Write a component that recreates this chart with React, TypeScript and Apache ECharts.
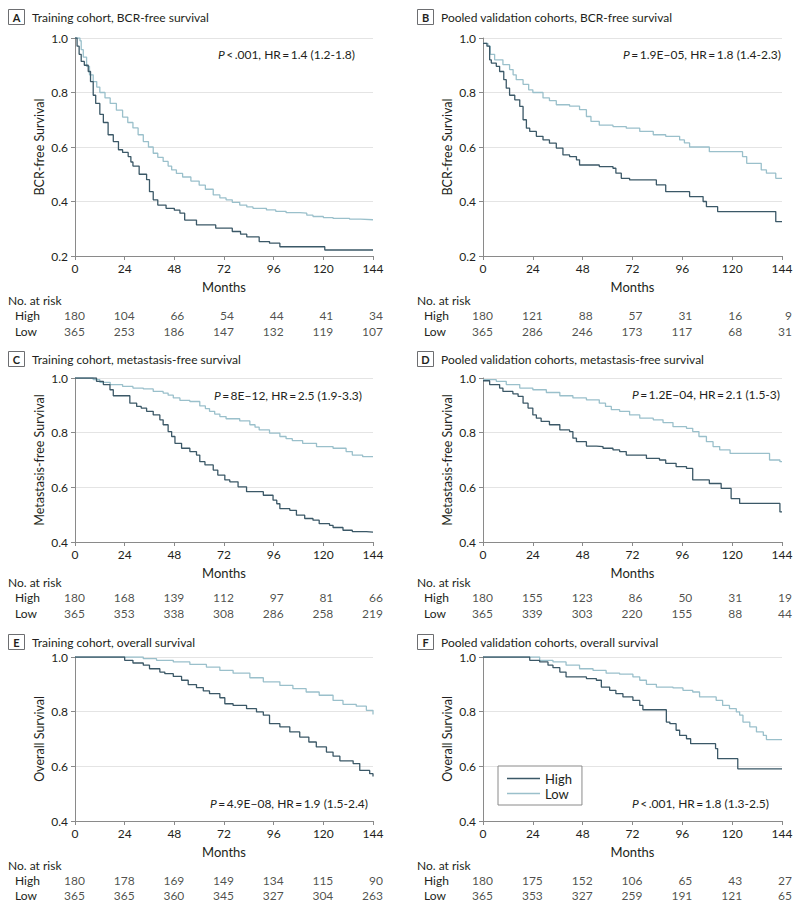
import React, { useEffect, useRef } from "react";
import * as echarts from "echarts";

// ---------- data ----------
const MONTHS = [0, 24, 48, 72, 96, 120, 144];
const GROUPS = ["High", "Low"];

const A_HIGH: [number, number][] = [[0,1],[1,0.97],[2,0.94],[3,0.914],[4.5,0.9],[6.4,0.877],[7.5,0.84],[8.8,0.79],[10,0.76],[12,0.72],[13.7,0.69],[16,0.645],[18.5,0.62],[21,0.59],[23,0.58],[25.7,0.565],[27,0.545],[28,0.53],[31,0.5],[34.6,0.48],[36,0.436],[37.8,0.406],[40,0.387],[44,0.375],[48,0.368],[50.7,0.357],[53,0.332],[58.7,0.314],[68,0.302],[76,0.29],[80,0.28],[83,0.27],[89,0.253],[94,0.247],[99,0.234],[120.7,0.222],[144,0.222]];
const A_LOW: [number, number][] = [[0,1],[2.4,0.99],[3,0.957],[4,0.93],[5.6,0.896],[7,0.865],[8.8,0.84],[10.5,0.82],[12,0.8],[14.5,0.78],[17,0.76],[20,0.735],[23,0.71],[25.5,0.69],[28,0.67],[30.5,0.645],[33,0.62],[35.5,0.6],[37.8,0.577],[40,0.562],[42.6,0.547],[45,0.53],[46.7,0.516],[49,0.503],[52,0.49],[56,0.475],[60,0.46],[63,0.445],[66.8,0.424],[70,0.413],[73,0.406],[76,0.397],[79.6,0.387],[83,0.38],[86,0.375],[92.5,0.369],[97,0.364],[102,0.359],[108.6,0.357],[112,0.35],[115,0.345],[120,0.341],[124.7,0.338],[132.7,0.335],[138,0.333],[144,0.332]];
const B_HIGH: [number, number][] = [[0,0.98],[1.9,0.97],[3.2,0.92],[4,0.908],[6.4,0.896],[8,0.877],[10,0.847],[11.2,0.816],[12.8,0.79],[15.3,0.773],[17.7,0.749],[19.3,0.7],[20.9,0.669],[22.5,0.657],[25.7,0.639],[28.9,0.626],[32,0.614],[35.3,0.596],[38.5,0.571],[41.7,0.565],[45,0.553],[46.5,0.534],[56,0.528],[62.6,0.522],[64,0.504],[66.6,0.485],[70.6,0.479],[83.5,0.461],[88,0.436],[99.5,0.418],[106,0.4],[107.6,0.381],[113,0.363],[141,0.326],[144,0.326]];
const B_LOW: [number, number][] = [[0,0.98],[2.4,0.97],[3.5,0.94],[5.6,0.92],[9.6,0.902],[12.8,0.884],[14.5,0.865],[16,0.847],[19.3,0.83],[22,0.81],[24,0.8],[28.9,0.78],[32,0.77],[35.3,0.755],[41.7,0.75],[46.5,0.737],[49.8,0.712],[52,0.694],[56,0.68],[62.6,0.675],[69,0.669],[75.5,0.657],[82,0.645],[88,0.639],[94.7,0.626],[97,0.615],[99.5,0.6],[109,0.583],[125,0.565],[127,0.54],[134,0.516],[136.5,0.504],[141,0.485],[144,0.485]];
const C_HIGH: [number, number][] = [[0,1],[7.2,1],[10.4,0.988],[13.7,0.976],[16.9,0.957],[18.5,0.935],[26.5,0.908],[29.8,0.896],[32,0.89],[34.6,0.878],[37.8,0.865],[41,0.847],[42.6,0.829],[45,0.804],[46.7,0.786],[48.3,0.761],[51.5,0.743],[55.5,0.731],[58.7,0.718],[60.3,0.694],[62.8,0.682],[66.8,0.663],[69,0.645],[72.4,0.627],[74.8,0.62],[78.8,0.602],[82.9,0.584],[91,0.571],[95.7,0.553],[97.5,0.54],[99,0.522],[103.8,0.516],[107,0.498],[111,0.486],[115,0.48],[118,0.467],[123,0.461],[124.7,0.453],[129.5,0.443],[134,0.438],[140.8,0.436],[144,0.436]];
const C_LOW: [number, number][] = [[0,1],[6.4,1],[8.8,0.994],[12,0.984],[17,0.976],[23,0.969],[28,0.963],[33,0.96],[37.8,0.951],[42.6,0.945],[45,0.937],[47.5,0.927],[50.7,0.918],[55.5,0.914],[60.3,0.898],[63,0.888],[65,0.878],[67.5,0.868],[70,0.859],[73,0.851],[79.6,0.843],[84.5,0.829],[87,0.82],[89,0.81],[94,0.798],[99,0.786],[102,0.778],[105,0.771],[110,0.761],[116.7,0.749],[124.7,0.743],[131,0.731],[134,0.718],[139,0.712],[144,0.71]];
const D_HIGH: [number, number][] = [[0,0.99],[3.2,0.976],[8,0.963],[9.6,0.951],[14.4,0.942],[16.9,0.933],[19.3,0.908],[21.7,0.89],[24,0.865],[25.7,0.853],[28,0.841],[32,0.829],[37,0.81],[41.7,0.804],[43.3,0.78],[45,0.767],[49.8,0.751],[54.6,0.749],[57.8,0.743],[62.6,0.737],[65.8,0.731],[69,0.718],[78.7,0.706],[85,0.7],[88,0.688],[93,0.676],[98,0.669],[101,0.627],[109,0.614],[114.7,0.596],[119.5,0.559],[123.6,0.541],[143,0.51],[144,0.51]];
const D_LOW: [number, number][] = [[0,0.994],[6.4,0.988],[11.2,0.976],[17.7,0.963],[24,0.957],[30.5,0.947],[37,0.935],[43.3,0.927],[49.8,0.92],[56,0.908],[59,0.896],[61.8,0.884],[65.8,0.878],[70.6,0.865],[75.5,0.853],[82,0.847],[86.7,0.837],[91.5,0.822],[98,0.816],[101,0.804],[104,0.786],[107.6,0.767],[110.8,0.749],[114,0.737],[119,0.724],[138,0.7],[143,0.694],[144,0.694]];
const E_HIGH: [number, number][] = [[0,1],[21.7,1],[24,0.988],[28,0.978],[33,0.97],[36,0.957],[41,0.945],[43.4,0.939],[47.5,0.929],[51.5,0.915],[54.7,0.899],[58.7,0.888],[62,0.876],[65,0.866],[70,0.851],[72.4,0.829],[76.4,0.823],[82.9,0.811],[87.7,0.799],[91,0.787],[94,0.756],[99,0.744],[103.8,0.726],[108.6,0.707],[113,0.689],[116.6,0.671],[121.5,0.652],[124.7,0.637],[128,0.62],[134.4,0.61],[137.6,0.585],[142.4,0.573],[144,0.563]];
const E_LOW: [number, number][] = [[0,1],[28,1],[33,0.994],[39.4,0.988],[47.5,0.982],[55.5,0.973],[63.5,0.963],[70,0.951],[76.4,0.941],[84.5,0.924],[91,0.909],[99,0.896],[105.3,0.884],[111.7,0.872],[118,0.86],[124.7,0.841],[129.5,0.827],[135.9,0.82],[140.8,0.805],[144,0.79]];
const F_HIGH: [number, number][] = [[0,1],[17.7,1],[22.5,0.988],[27.3,0.982],[31.3,0.97],[33.7,0.961],[37,0.945],[40,0.927],[49.8,0.921],[54.6,0.915],[57,0.89],[61,0.878],[64,0.866],[67.4,0.854],[72.2,0.841],[75.5,0.823],[77,0.807],[88.3,0.762],[90,0.756],[93,0.732],[94.7,0.713],[98,0.701],[100,0.683],[112,0.665],[113,0.628],[122.7,0.591],[144,0.591]];
const F_LOW: [number, number][] = [[0,1],[22.5,1],[27.3,0.988],[33.7,0.982],[40,0.97],[46.5,0.957],[53,0.951],[59.3,0.941],[65.8,0.937],[72.2,0.927],[75.5,0.915],[78.7,0.9],[83.5,0.89],[91.5,0.887],[96.3,0.878],[101,0.872],[104.3,0.854],[112.3,0.841],[115.4,0.823],[118.7,0.811],[122,0.799],[123.6,0.787],[125.2,0.762],[128.5,0.744],[131.7,0.726],[135,0.713],[136.5,0.698],[144,0.698]];

const RISK_A_HIGH = [180, 104, 66, 54, 44, 41, 34];
const RISK_A_LOW = [365, 253, 186, 147, 132, 119, 107];
const RISK_B_HIGH = [180, 121, 88, 57, 31, 16, 9];
const RISK_B_LOW = [365, 286, 246, 173, 117, 68, 31];
const RISK_C_HIGH = [180, 168, 139, 112, 97, 81, 66];
const RISK_C_LOW = [365, 353, 338, 308, 286, 258, 219];
const RISK_D_HIGH = [180, 155, 123, 86, 50, 31, 19];
const RISK_D_LOW = [365, 339, 303, 220, 155, 88, 44];
const RISK_E_HIGH = [180, 178, 169, 149, 134, 115, 90];
const RISK_E_LOW = [365, 365, 360, 345, 327, 304, 263];
const RISK_F_HIGH = [180, 175, 152, 106, 65, 43, 27];
const RISK_F_LOW = [365, 353, 327, 259, 191, 121, 65];

const LETTERS = ["A", "B", "C", "D", "E", "F"];
const TITLES = [
  "Training cohort, BCR-free survival",
  "Pooled validation cohorts, BCR-free survival",
  "Training cohort, metastasis-free survival",
  "Pooled validation cohorts, metastasis-free survival",
  "Training cohort, overall survival",
  "Pooled validation cohorts, overall survival",
];
const Y_NAMES = ["BCR-free Survival", "BCR-free Survival", "Metastasis-free Survival", "Metastasis-free Survival", "Overall Survival", "Overall Survival"];
const Y_MINS = [0.2, 0.2, 0.4, 0.4, 0.4, 0.4];
const P_TEXTS = ["<\u2009.001", "=\u20091.9E\u221205", "=\u20098E\u221212", "=\u20091.2E\u221204", "=\u20094.9E\u221208", "<\u2009.001"];
const HR_TEXTS = ["1.4 (1.2-1.8)", "1.8 (1.4-2.3)", "2.5 (1.9-3.3)", "2.1 (1.5-3)", "1.9 (1.5-2.4)", "1.8 (1.3-2.5)"];

const CURVES_HIGH = [A_HIGH, B_HIGH, C_HIGH, D_HIGH, E_HIGH, F_HIGH];
const CURVES_LOW = [A_LOW, B_LOW, C_LOW, D_LOW, E_LOW, F_LOW];
const RISK_HIGH = [RISK_A_HIGH, RISK_B_HIGH, RISK_C_HIGH, RISK_D_HIGH, RISK_E_HIGH, RISK_F_HIGH];
const RISK_LOW = [RISK_A_LOW, RISK_B_LOW, RISK_C_LOW, RISK_D_LOW, RISK_E_LOW, RISK_F_LOW];

// ---------- layout / style ----------
const FONT = "Lato, 'Open Sans', sans-serif";
const C_HIGH_COLOR = "#3b5867";
const C_LOW_COLOR = "#9ac0cb";
const TEXT = "#231f20";
const AXIS = "#8a8a8a";
const GRIDLINE = "#e4e4e4";

const COL_LEFT = [75, 483];
const COL_WIDTH = [298, 299];
const COL_X0 = [8, 417];
const ROW_TOP = [38, 378, 657];
const ROW_H = [218, 164, 164];
const ROW_TITLE_Y = [17, 359, 642];
const ROW_RISK_TOP = [307, 589, 873];
const ROW_RISK_H = [32, 32, 30];
const ROW_RISK_LABEL_Y = [300, 582, 865];
const STAT_POS: [number, number][] = [[355, 54], [781, 54], [362, 395], [780, 394], [368, 803], [769, 803]];

function buildOption() {
  const grid: any[] = [];
  const xAxis: any[] = [];
  const yAxis: any[] = [];
  const series: any[] = [];
  const graphic: any[] = [];

  for (let i = 0; i < 6; i++) {
    const col = i % 2;
    const row = Math.floor(i / 2);
    grid.push({ left: COL_LEFT[col], top: ROW_TOP[row], width: COL_WIDTH[col], height: ROW_H[row], containLabel: false });
    xAxis.push({
      gridIndex: i, type: "value", min: 0, max: 144, interval: 24,
      name: "Months", nameLocation: "middle", nameGap: 24,
      nameTextStyle: { fontSize: 13, color: TEXT, fontFamily: FONT },
      axisLine: { lineStyle: { color: AXIS, width: 1 } },
      axisTick: { show: true, length: 4, lineStyle: { color: AXIS } },
      axisLabel: { fontSize: 12, color: TEXT, margin: 6, fontFamily: FONT },
      splitLine: { show: false },
    });
    yAxis.push({
      gridIndex: i, type: "value", min: Y_MINS[i], max: 1.0, interval: 0.2,
      name: Y_NAMES[i], nameLocation: "middle", nameGap: 29, nameRotate: 90,
      nameTextStyle: { fontSize: 12.5, color: TEXT, fontFamily: FONT },
      axisLine: { show: true, lineStyle: { color: AXIS, width: 1 } },
      axisTick: { show: true, length: 4, lineStyle: { color: AXIS } },
      axisLabel: { fontSize: 12, color: TEXT, margin: 7, fontFamily: FONT, formatter: (v: number) => v.toFixed(1) },
      splitLine: { show: true, lineStyle: { color: GRIDLINE, width: 1 } },
    });
    series.push({
      name: "Low", type: "line", step: "end", xAxisIndex: i, yAxisIndex: i,
      data: CURVES_LOW[i], showSymbol: false, symbol: "none",
      lineStyle: { color: C_LOW_COLOR, width: 1.3 }, itemStyle: { color: C_LOW_COLOR }, z: 2,
    });
    series.push({
      name: "High", type: "line", step: "end", xAxisIndex: i, yAxisIndex: i,
      data: CURVES_HIGH[i], showSymbol: false, symbol: "none",
      lineStyle: { color: C_HIGH_COLOR, width: 1.3 }, itemStyle: { color: C_HIGH_COLOR }, z: 3,
    });

    // panel header
    const x0 = COL_X0[col];
    const ty = ROW_TITLE_Y[row];
    graphic.push({ type: "rect", shape: { x: x0 + 0.5, y: ty - 7.5, width: 16, height: 15 }, style: { fill: "#fff", stroke: "#6d6e71", lineWidth: 1 } });
    graphic.push({ type: "text", x: x0 + 8.5, y: ty, style: { text: LETTERS[i], font: `bold 11px ${FONT}`, fill: TEXT, align: "center", verticalAlign: "middle" } });
    graphic.push({ type: "text", x: x0 + 24, y: ty, style: { text: TITLES[i], font: `12px ${FONT}`, fill: TEXT, align: "left", verticalAlign: "middle" } });

    // stats text
    const [sx, sy] = STAT_POS[i];
    graphic.push({
      type: "text", x: sx, y: sy,
      style: {
        text: `{i|P}\u2009${P_TEXTS[i]}, HR\u2009=\u2009${HR_TEXTS[i]}`,
        rich: { i: { fontStyle: "italic", fontSize: 12, fontFamily: FONT, fill: TEXT } },
        font: `12px ${FONT}`, fill: TEXT, align: "right", verticalAlign: "middle",
      },
    });

    // No. at risk label
    graphic.push({ type: "text", x: x0, y: ROW_RISK_LABEL_Y[row], style: { text: "No. at risk", font: `12px ${FONT}`, fill: TEXT, align: "left", verticalAlign: "middle" } });
  }

  // risk tables
  for (let i = 0; i < 6; i++) {
    const col = i % 2;
    const row = Math.floor(i / 2);
    const gi = 6 + i;
    grid.push({ left: COL_LEFT[col], top: ROW_RISK_TOP[row], width: COL_WIDTH[col], height: ROW_RISK_H[row] });
    xAxis.push({ gridIndex: gi, type: "value", min: 0, max: 144, interval: 24, show: false });
    yAxis.push({
      gridIndex: gi, type: "category", data: [GROUPS[1], GROUPS[0]],
      axisLine: { show: false }, axisTick: { show: false }, splitLine: { show: false },
      axisLabel: { show: true, interval: 0, align: "left", margin: COL_LEFT[col] - COL_X0[col] - 7, fontSize: 12, lineHeight: 12, color: TEXT, fontFamily: FONT },
    });
    const rows: [number[], number][] = [[RISK_HIGH[i], 1], [RISK_LOW[i], 0]];
    rows.forEach(([vals, yi]) => {
      series.push({
        type: "scatter", xAxisIndex: gi, yAxisIndex: gi, symbolSize: 1,
        itemStyle: { color: "rgba(0,0,0,0)" }, silent: true,
        data: vals.map((n, k) => [MONTHS[k], yi, n]),
        label: {
          show: true, position: "inside", align: "right", verticalAlign: "middle", offset: [10, 0],
          fontSize: 12, lineHeight: 12, color: TEXT, fontFamily: FONT,
          formatter: (p: any) => String(p.data[2]),
        },
      });
    });
  }

  return {
    animation: false,
    backgroundColor: "#ffffff",
    textStyle: { fontFamily: FONT },
    grid, xAxis, yAxis, series, graphic,
    legend: {
      data: ["High", "Low"],
      orient: "vertical", left: 498, top: 766,
      width: 76, padding: [6, 10, 5, 9], itemGap: 2,
      borderColor: "#8a8a8a", borderWidth: 1, backgroundColor: "#fff",
      icon: "rect", itemWidth: 33, itemHeight: 1.5,
      textStyle: { fontSize: 13, color: TEXT, fontFamily: FONT, padding: [0, 14, 0, 0] },
      selectedMode: false,
    },
  };
}

export default function App() {
  const ref = useRef<HTMLDivElement>(null);
  useEffect(() => {
    const chart = echarts.init(ref.current!, undefined, { renderer: "svg" });
    chart.setOption(buildOption() as any);
    return () => chart.dispose();
  }, []);
  return <div ref={ref} style={{ position: "absolute", left: 0, top: 0, width: 800, height: 908, background: "#fff" }} />;
}
